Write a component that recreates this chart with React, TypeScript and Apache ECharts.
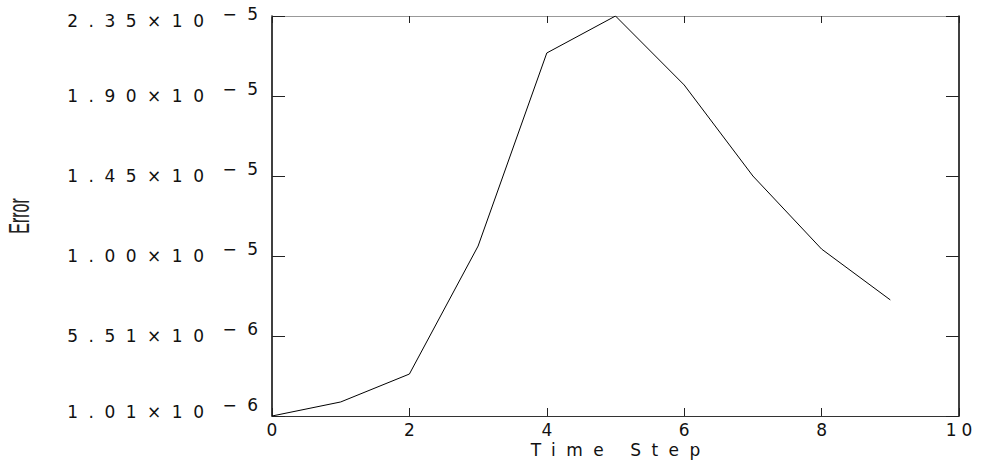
import React, { useEffect, useRef } from "react";
import * as echarts from "echarts";

// ---- data ----
const timeSteps = [0, 1, 2, 3, 4, 5, 6, 7, 8, 9];
const errorValues = [
  1.01e-6, 1.8e-6, 3.37e-6, 1.057e-5, 2.143e-5, 2.351e-5, 1.963e-5, 1.451e-5,
  1.04e-5, 7.54e-6,
];
const yTickMantissas = ["1.01", "5.51", "1.00", "1.45", "1.90", "2.35"];
const yTickExponents = ["−6", "−6", "−5", "−5", "−5", "−5"];
const xAxisName = "Time Step";
const yAxisName = "Error";

// y axis: ticks run from Y_BASE in steps of Y_STEP (shown as tick index 0..5)
const Y_BASE = 1.01e-6;
const Y_STEP = 4.5e-6;

const FONT = "DejaVu Sans";
const FONT_X = "DejaVu Sans, Verdana";
const FS = 17;
const LS = 10.5; // letter spacing applied by CSS (y labels, axis name)
const LS_X = 5; // letter spacing for x tick labels

export default function App() {
  const ref = useRef<HTMLDivElement>(null);

  useEffect(() => {
    if (!ref.current) return;
    const chart = echarts.init(ref.current, null, { renderer: "svg" });

    const seriesData = timeSteps.map((t, i) => [t, (errorValues[i] - Y_BASE) / Y_STEP]);

    const base = {
      fontFamily: FONT,
      fontSize: FS,
      color: "#111",
      align: "right",
      lineHeight: 16,
    };
    const supW = 54;
    const rich: any = {
      mc: { ...base, padding: [7, 0, 7, 0] },
      sc: { ...base, width: supW, padding: [0, 0, 14, 0] },
      mt: { ...base, padding: [12, 0, 2, 0] },
      st: { ...base, width: supW, padding: [5, 0, 9, 0] },
      mb: { ...base, padding: [7, 0, 15, 0] },
      sb: { ...base, width: supW, padding: [0, 0, 22, 0] },
    };

    const option: any = {
      animation: false,
      backgroundColor: "#fff",
      grid: {
        left: 272,
        right: 23,
        top: 16,
        bottom: 45,
        containLabel: false,
        outerBoundsMode: "none",
      },
      xAxis: [
        {
          type: "value",
          position: "bottom",
          min: 0,
          max: 10,
          interval: 2,
          name: xAxisName,
          nameLocation: "middle",
          nameGap: 27,
          nameMoveOverlap: false,
          nameTextStyle: {
            fontFamily: FONT,
            fontSize: FS,
            lineHeight: 14,
            color: "#111",
            padding: [0, 0, 0, LS],
          },
          axisLine: { onZero: false, lineStyle: { color: "#333", width: 1 } },
          axisTick: { inside: true, length: 8, lineStyle: { color: "#222" } },
          axisLabel: {
            margin: 6.5,
            fontFamily: FONT_X,
            fontSize: FS,
            lineHeight: 14,
            color: "#111",
            padding: [0, 0, 0, LS_X],
          },
          splitLine: { show: false },
        },
        {
          type: "value",
          position: "top",
          min: 0,
          max: 10,
          interval: 2,
          axisLine: { onZero: false, lineStyle: { color: "#999", width: 1 } },
          axisTick: { inside: true, length: 7, lineStyle: { color: "#222" } },
          axisLabel: { show: false },
          splitLine: { show: false },
        },
      ],
      yAxis: [
        {
          type: "value",
          position: "left",
          min: 0,
          max: 5,
          interval: 1,
          axisLine: { onZero: false, lineStyle: { color: "#000", width: 1.5 } },
          axisTick: { inside: true, length: 13, lineStyle: { color: "#222" } },
          axisLabel: {
            margin: 3.5,
            showMinLabel: true,
            showMaxLabel: true,
            hideOverlap: false,
            formatter: (value: number) => {
              const i = Math.round(value);
              const k = i === 0 ? "b" : i === yTickMantissas.length - 1 ? "t" : "c";
              return `{m${k}|${yTickMantissas[i]}×10}{s${k}|${yTickExponents[i]}}`;
            },
            rich,
          },
          splitLine: { show: false },
        },
        {
          type: "value",
          position: "right",
          min: 0,
          max: 5,
          interval: 1,
          axisLine: { onZero: false, lineStyle: { color: "#000", width: 1.5 } },
          axisTick: { inside: true, length: 13, lineStyle: { color: "#222" } },
          axisLabel: { show: false },
          splitLine: { show: false },
        },
      ],
      graphic: [
        {
          type: "text",
          x: 19,
          y: 216,
          rotation: Math.PI / 2,
          scaleX: 1,
          scaleY: 1.8,
          style: {
            text: yAxisName,
            fontFamily: "Liberation Sans",
            fontSize: 16,
            font: '16px "Liberation Sans"',
            fill: "#222",
            align: "center",
            verticalAlign: "middle",
            textAlign: "center",
            textVerticalAlign: "middle",
          },
        },
      ],
      series: [
        {
          type: "line",
          xAxisIndex: 0,
          yAxisIndex: 0,
          data: seriesData,
          showSymbol: false,
          symbol: "none",
          lineStyle: { color: "#000", width: 1 },
          silent: true,
        },
      ],
    };

    chart.setOption(option);
    return () => chart.dispose();
  }, []);

  return (
    <>
      <style>{`
        .chart-host text[style*="DejaVu"], .chart-host text[font-family*="DejaVu"] { letter-spacing: ${LS}px; }
        .chart-host text[style*="Verdana"], .chart-host text[font-family*="Verdana"] { letter-spacing: ${LS_X}px; }
      `}</style>
      <div
        ref={ref}
        className="chart-host"
        style={{ position: "absolute", left: 0, top: 0, width: 982, height: 461, background: "#fff" }}
      />
    </>
  );
}
